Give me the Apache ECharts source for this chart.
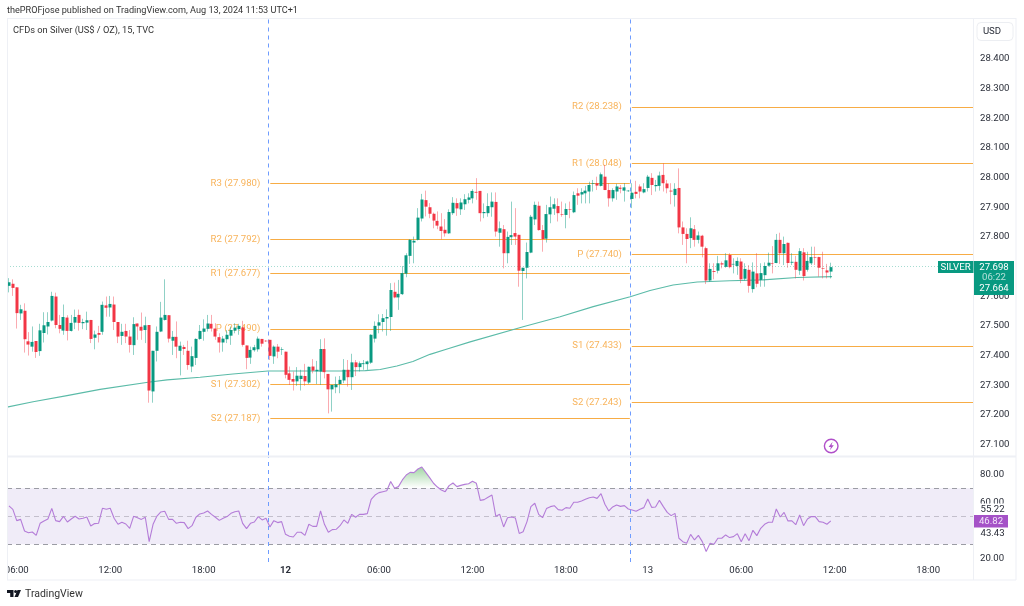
<!DOCTYPE html>
<html><head><meta charset="utf-8">
<style>html,body{margin:0;padding:0;background:#fff}#c{width:1024px;height:606px}</style>
<script src="https://cdn.jsdelivr.net/npm/echarts@6/dist/echarts.min.js"></script>
</head><body><div id="c"></div>
<script>
const opens=[27.635,27.642,27.630,27.542,27.551,27.448,27.430,27.449,27.415,27.476,27.498,27.518,27.599,27.503,27.484,27.528,27.483,27.511,27.537,27.509,27.511,27.520,27.460,27.476,27.480,27.569,27.562,27.572,27.513,27.466,27.483,27.464,27.435,27.508,27.497,27.486,27.503,27.279,27.416,27.481,27.520,27.536,27.450,27.463,27.416,27.429,27.416,27.363,27.392,27.456,27.480,27.490,27.507,27.491,27.462,27.444,27.455,27.467,27.484,27.489,27.495,27.434,27.393,27.418,27.421,27.456,27.450,27.453,27.397,27.430,27.420,27.413,27.340,27.321,27.313,27.321,27.331,27.309,27.363,27.347,27.346,27.422,27.338,27.286,27.293,27.304,27.316,27.352,27.327,27.377,27.361,27.371,27.371,27.376,27.457,27.501,27.513,27.525,27.530,27.615,27.596,27.607,27.676,27.736,27.781,27.790,27.862,27.924,27.900,27.878,27.854,27.835,27.824,27.812,27.880,27.914,27.893,27.910,27.925,27.930,27.952,27.955,27.880,27.880,27.900,27.918,27.814,27.826,27.745,27.799,27.813,27.807,27.685,27.696,27.747,27.859,27.905,27.823,27.794,27.876,27.895,27.904,27.876,27.874,27.893,27.883,27.947,27.943,27.947,27.953,27.979,27.981,27.972,28.003,27.958,27.930,27.953,27.966,27.956,27.954,27.928,27.952,27.970,27.950,27.965,27.999,27.971,27.972,28.009,27.980,27.956,27.941,27.965,27.832,27.810,27.796,27.826,27.790,27.804,27.762,27.653,27.685,27.686,27.711,27.699,27.739,27.707,27.702,27.717,27.659,27.689,27.624,27.677,27.655,27.671,27.703,27.712,27.712,27.790,27.745,27.780,27.713,27.716,27.686,27.748,27.689,27.711,27.732,27.732,27.695,27.687,27.683];
const closes=[27.647,27.628,27.543,27.556,27.455,27.437,27.446,27.412,27.485,27.502,27.513,27.601,27.503,27.490,27.530,27.483,27.510,27.530,27.510,27.513,27.519,27.456,27.471,27.470,27.571,27.561,27.574,27.513,27.464,27.480,27.464,27.436,27.506,27.498,27.484,27.502,27.282,27.416,27.480,27.528,27.537,27.457,27.463,27.430,27.433,27.422,27.368,27.398,27.456,27.483,27.491,27.508,27.491,27.464,27.444,27.457,27.470,27.486,27.494,27.500,27.436,27.392,27.419,27.428,27.457,27.440,27.448,27.399,27.430,27.413,27.422,27.335,27.318,27.312,27.332,27.332,27.313,27.362,27.349,27.352,27.422,27.344,27.286,27.301,27.303,27.318,27.352,27.327,27.377,27.361,27.374,27.374,27.380,27.470,27.500,27.512,27.526,27.530,27.621,27.596,27.608,27.678,27.738,27.790,27.787,27.865,27.926,27.902,27.878,27.855,27.838,27.820,27.812,27.884,27.915,27.896,27.916,27.927,27.933,27.955,27.949,27.880,27.884,27.904,27.919,27.818,27.829,27.745,27.800,27.806,27.801,27.686,27.696,27.749,27.868,27.908,27.823,27.793,27.877,27.900,27.910,27.880,27.874,27.894,27.891,27.941,27.939,27.951,27.956,27.975,27.981,27.973,28.011,27.958,27.930,27.958,27.970,27.962,27.967,27.956,27.949,27.945,27.953,27.961,28.003,27.975,27.975,28.007,27.981,27.964,27.953,27.962,27.832,27.810,27.793,27.829,27.790,27.805,27.767,27.653,27.692,27.682,27.711,27.707,27.721,27.698,27.709,27.719,27.657,27.692,27.635,27.683,27.642,27.678,27.702,27.713,27.710,27.790,27.745,27.776,27.712,27.716,27.689,27.752,27.668,27.719,27.732,27.730,27.696,27.693,27.680,27.698];
const lows=[27.613,27.601,27.491,27.520,27.410,27.400,27.413,27.392,27.399,27.444,27.471,27.515,27.492,27.475,27.470,27.451,27.481,27.489,27.484,27.489,27.486,27.442,27.421,27.444,27.470,27.531,27.531,27.486,27.442,27.436,27.442,27.410,27.402,27.453,27.453,27.442,27.241,27.241,27.380,27.479,27.518,27.444,27.402,27.391,27.333,27.402,27.352,27.344,27.368,27.453,27.450,27.481,27.481,27.453,27.410,27.413,27.442,27.436,27.475,27.470,27.430,27.354,27.372,27.413,27.413,27.430,27.446,27.385,27.372,27.391,27.402,27.323,27.301,27.282,27.298,27.282,27.298,27.304,27.340,27.304,27.301,27.323,27.205,27.211,27.273,27.273,27.307,27.295,27.284,27.331,27.346,27.352,27.352,27.372,27.444,27.475,27.481,27.467,27.483,27.593,27.554,27.604,27.664,27.709,27.711,27.788,27.852,27.869,27.863,27.829,27.826,27.792,27.801,27.810,27.874,27.871,27.874,27.891,27.913,27.913,27.925,27.852,27.863,27.868,27.868,27.801,27.767,27.694,27.711,27.773,27.773,27.632,27.520,27.660,27.745,27.840,27.821,27.750,27.781,27.846,27.874,27.852,27.868,27.829,27.863,27.880,27.908,27.913,27.913,27.913,27.953,27.958,27.970,27.958,27.902,27.919,27.925,27.947,27.919,27.952,27.897,27.930,27.930,27.947,27.953,27.941,27.953,27.956,27.953,27.947,27.910,27.902,27.812,27.773,27.711,27.762,27.767,27.778,27.731,27.641,27.649,27.657,27.677,27.694,27.696,27.694,27.677,27.672,27.644,27.653,27.612,27.612,27.630,27.632,27.632,27.700,27.677,27.711,27.709,27.705,27.696,27.705,27.660,27.672,27.653,27.683,27.705,27.705,27.666,27.660,27.660,27.660];
const highs=[27.661,27.657,27.630,27.571,27.576,27.479,27.498,27.449,27.507,27.546,27.546,27.615,27.612,27.537,27.572,27.536,27.537,27.555,27.555,27.524,27.548,27.520,27.484,27.500,27.582,27.599,27.601,27.599,27.513,27.507,27.507,27.486,27.529,27.508,27.545,27.531,27.503,27.416,27.498,27.581,27.657,27.536,27.483,27.515,27.447,27.436,27.450,27.430,27.458,27.503,27.522,27.537,27.537,27.509,27.475,27.466,27.486,27.498,27.509,27.507,27.517,27.434,27.430,27.436,27.464,27.456,27.452,27.453,27.434,27.439,27.428,27.413,27.363,27.346,27.361,27.352,27.372,27.363,27.388,27.382,27.455,27.458,27.338,27.301,27.329,27.331,27.388,27.385,27.406,27.385,27.380,27.385,27.383,27.472,27.515,27.539,27.540,27.556,27.644,27.646,27.655,27.702,27.745,27.792,27.801,27.897,27.945,27.956,27.914,27.882,27.886,27.880,27.860,27.893,27.934,27.930,27.930,27.944,27.947,27.961,27.998,27.955,27.913,27.947,27.950,27.950,27.852,27.840,27.818,27.919,27.897,27.807,27.696,27.781,27.874,27.919,27.919,27.840,27.908,27.936,27.930,27.930,27.919,27.913,27.919,27.953,27.964,27.964,27.972,27.986,27.992,28.003,28.017,28.043,27.981,27.964,27.979,27.975,27.981,27.958,27.981,27.989,27.977,27.981,28.009,28.015,27.992,28.020,28.048,27.992,27.981,27.981,28.031,27.852,27.829,27.866,27.840,27.818,27.807,27.767,27.711,27.711,27.736,27.717,27.745,27.745,27.728,27.731,27.728,27.711,27.705,27.714,27.745,27.711,27.714,27.747,27.769,27.810,27.814,27.801,27.781,27.745,27.736,27.762,27.762,27.750,27.767,27.767,27.733,27.750,27.709,27.713];
const rsiValues=[57.4,55.0,46.9,47.8,39.5,38.3,38.8,36.4,45.0,46.7,48.1,55.7,46.9,46.2,50.0,45.9,48.1,50.0,48.1,48.6,49.5,43.1,44.8,45.0,55.7,55.0,55.7,48.6,44.3,45.7,44.5,41.4,50.0,49.0,47.8,49.3,31.9,44.3,50.2,53.1,53.6,47.8,47.8,45.0,45.7,45.5,41.2,43.3,49.3,51.7,52.4,53.8,51.4,49.3,47.1,48.6,49.8,52.1,53.3,53.8,45.0,41.2,45.0,45.9,49.8,47.4,48.6,42.4,46.9,45.5,46.2,37.1,35.7,35.2,38.6,38.6,36.4,44.3,42.8,42.8,53.8,44.3,38.6,40.5,40.7,43.3,47.4,45.0,51.4,49.3,51.4,51.4,51.9,62.1,65.2,66.9,67.6,68.3,74.8,70.0,71.2,76.0,79.5,81.4,81.2,83.8,85.2,81.4,77.6,73.6,70.9,68.8,67.6,71.9,73.8,71.2,72.1,72.8,73.3,75.0,73.6,61.4,61.9,63.6,65.2,50.0,51.4,42.4,49.0,49.5,48.8,37.8,39.0,46.2,56.9,59.3,51.4,49.0,55.5,56.9,57.6,54.8,54.3,56.2,55.7,60.0,60.0,60.9,62.1,63.3,63.8,62.8,66.2,58.6,53.8,56.7,58.1,57.1,57.6,55.2,54.5,53.6,55.0,56.2,62.4,56.4,56.7,61.4,56.9,52.8,50.5,52.1,34.3,31.9,30.7,37.1,33.1,36.4,31.9,24.8,30.7,30.0,34.3,34.3,36.7,34.8,35.5,37.6,31.9,37.6,32.6,40.0,36.2,41.4,44.3,45.7,45.7,55.2,49.5,52.8,46.7,46.7,44.0,50.9,43.3,48.1,49.8,49.8,46.2,45.7,44.3,46.7];
const maBars=[0,6.7,15.4,23.9,36.2,41.1,49.6,58,67,75.2,85.5,92,95.8,100.1,104.2,108.6,113,118.9,132.5,142,150.5,160,165.1,171,177.2,185.6,194.1,202.8,211.8];
const maPrices=[27.226,27.244,27.265,27.286,27.310,27.318,27.327,27.338,27.348,27.348,27.348,27.349,27.353,27.365,27.380,27.404,27.422,27.446,27.497,27.531,27.565,27.598,27.619,27.638,27.648,27.652,27.655,27.663,27.666];
const priceTicks=[27.1,27.2,27.3,27.4,27.5,27.6,27.7,27.8,27.9,28.0,28.1,28.2,28.3,28.4];
const rsiTicks=[20,60,80];
const timeTickIndex=[2,26,50,71,95,119,143,164,188,212,236];
const timeTickText=['06:00','12:00','18:00','12','06:00','12:00','18:00','13','06:00','12:00','18:00'];
const pivotDay1Names=['R3','R2','R1','P','S1','S2'];
const pivotDay1=[27.980,27.792,27.677,27.490,27.302,27.187];
const pivotDay2Names=['R2','R1','P','S1','S2'];
const pivotDay2=[28.238,28.048,27.740,27.433,27.243];
const sessionBreaks=[67,160];
const lastPrice=27.698;

const BAR_SLOTS=248, UP='#089981', DOWN='#F23645', FONT='Roboto, "Noto Sans", sans-serif', TXT='#2a2e39', ORANGE='#F8B45C', FS=9.6;
const cats=Array.from({length:BAR_SLOTS},(_,i)=>{const k=timeTickIndex.indexOf(i);return k>=0?timeTickText[k]:'';});
const wick=opens.map((o,i)=>[o,closes[i],lows[i],highs[i]]);
const body=opens.map((o,i)=>[o,closes[i],Math.min(o,closes[i]),Math.max(o,closes[i])]);
const over=rsiValues.map((v,i)=>v>70?v:((rsiValues[i-1]>70||rsiValues[i+1]>70)?70:null));
const pivotLines=(names,vals,x0,x1)=>vals.map((v,i)=>[{coord:[x0,v],name:names[i]+' ('+v.toFixed(3)+')'},{coord:[x1,v]}]);
const chart=echarts.init(document.getElementById('c'),null,{renderer:'canvas'});
const rect=(x,y,w,h,fill,z)=>({type:'rect',shape:{x,y,width:w,height:h},style:{fill},z:z||50,silent:true});
const txt=(x,y,t,o)=>({type:'text',x,y,z:(o&&o.z)||60,silent:true,style:Object.assign({text:t,fill:TXT,font:FS+'px '+FONT,verticalAlign:'middle',align:'left'},o||{})});
chart.setOption({
 animation:false,backgroundColor:'#fff',
 grid:[{left:7,right:51,top:18,height:437.5},{left:7,right:51,top:457,height:105}],
 xAxis:[
  {type:'category',gridIndex:0,data:cats,show:false},
  {type:'category',gridIndex:1,data:cats,axisLine:{show:false},axisTick:{show:false},splitLine:{show:false},
   axisLabel:{interval:(i)=>timeTickIndex.includes(i),hideOverlap:false,margin:4,fontFamily:FONT,fontSize:FS,color:TXT,
     formatter:v=>v==='12'?'{b|12}':v,rich:{b:{fontWeight:700,fontFamily:FONT,fontSize:FS,color:TXT}}}},
  {type:'value',gridIndex:0,min:0,max:BAR_SLOTS,show:false},
  {type:'value',gridIndex:1,min:0,max:BAR_SLOTS,show:false}
 ],
 yAxis:[
  {type:'value',gridIndex:0,position:'right',min:27.063,max:28.538,axisLine:{show:false},axisTick:{show:false},splitLine:{show:false},
   axisLabel:{customValues:priceTicks,margin:7,padding:[2,0,0,0],fontFamily:FONT,fontSize:FS,color:TXT,formatter:v=>v.toFixed(3)}},
  {type:'value',gridIndex:1,position:'right',min:17.36,max:92.36,axisLine:{show:false},axisTick:{show:false},splitLine:{show:false},
   axisLabel:{customValues:rsiTicks,margin:7,padding:[1,0,0,0],fontFamily:FONT,fontSize:FS,color:TXT,formatter:v=>v.toFixed(2)}}
 ],
 series:[
  {name:'EMA',type:'line',xAxisIndex:2,yAxisIndex:0,z:2,showSymbol:false,silent:true,
   data:maBars.map((x,i)=>[x,maPrices[i]]),lineStyle:{color:'#5BBBA8',width:1.1},
   markLine:{silent:true,symbol:'none',animation:false,z:1,
    lineStyle:{color:'#F7AC45',width:1,type:'solid',opacity:1},
    label:{show:true,position:'start',distance:10,padding:[2,0,0,0],formatter:p=>p.name,color:ORANGE,fontFamily:FONT,fontSize:FS},
    data:[...pivotLines(pivotDay1Names,pivotDay1,67.6,159.9),...pivotLines(pivotDay2Names,pivotDay2,160.4,BAR_SLOTS),
     {yAxis:lastPrice,name:'',lineStyle:{color:'#a6dcd1',type:[1,2],width:1},label:{show:false}},
     ...sessionBreaks.map(x=>({xAxis:x,name:'',lineStyle:{color:'#6E9CFF',type:[4,4],width:1},label:{show:false}}))]}},
  {name:'wick',type:'candlestick',xAxisIndex:0,yAxisIndex:0,z:3,barWidth:1,silent:true,data:wick,
   itemStyle:{color:'rgba(8,153,129,.45)',color0:'rgba(242,54,69,.42)',borderColor:'rgba(8,153,129,.45)',borderColor0:'rgba(242,54,69,.42)',borderWidth:1}},
  {name:'CFDs on Silver',type:'candlestick',xAxisIndex:0,yAxisIndex:0,z:4,barWidth:3.5,silent:true,data:body,
   itemStyle:{color:UP,color0:DOWN,borderColor:UP,borderColor0:DOWN,borderWidth:0}},
  {name:'RSI',type:'line',xAxisIndex:1,yAxisIndex:1,z:4,showSymbol:false,silent:true,data:rsiValues,
   lineStyle:{color:'#B47CD8',width:1.1},
   markArea:{silent:true,z:1,itemStyle:{color:'rgba(126,87,194,.115)'},data:[[{yAxis:30},{yAxis:70}]]},
   markLine:{silent:true,symbol:'none',z:2,label:{show:false},lineStyle:{color:'#9b9ca4',type:[5,4],width:1},
     data:[{yAxis:70},{yAxis:50,lineStyle:{color:'#c3bfcc'}},{yAxis:30}]}},
  {name:'RSI overbought',type:'line',xAxisIndex:1,yAxisIndex:1,z:3,showSymbol:false,silent:true,data:over,connectNulls:false,
   lineStyle:{opacity:0,width:0},
   areaStyle:{origin:70,opacity:1,color:new echarts.graphic.LinearGradient(0,466,0,488,[{offset:0,color:'rgba(76,175,80,.55)'},{offset:1,color:'rgba(76,175,80,0)'}],true)}},
  {name:'session',type:'line',xAxisIndex:3,yAxisIndex:1,z:5,showSymbol:false,silent:true,data:[],
   markLine:{silent:true,symbol:'none',label:{show:false},lineStyle:{color:'#6E9CFF',type:[4,4],width:1},data:sessionBreaks.map(x=>({xAxis:x}))}}
 ],
 graphic:[
  rect(0,0,7,582,'#fff',40),
  rect(7,18,1009,1,'#eef0f5',41),rect(7,18,1,562,'#eef0f5',41),rect(7,579.5,1009,1,'#eef0f5',41),rect(1015.5,18,1,562,'#eef0f5',41),
  rect(973,18,1,562,'#eef0f5',41),rect(7,455.5,1009,2,'#eef0f5',41),
  txt(7,11,'thePROFjose published on TradingView.com, Aug 13, 2024 11:53 UTC+1',{fill:'#333',font:'9.15px '+FONT}),
  txt(13,30.3,'CFDs on Silver (US$ / OZ), 15, TVC',{fill:'#333',font:'9.25px '+FONT}),
  {type:'rect',z:60,silent:true,shape:{x:977,y:22.5,width:36,height:18,r:4},style:{fill:'#fff',stroke:'#eceef2'}},
  txt(992,31.5,'USD',{align:'center',fill:'#2a2e39',z:61}),
  rect(938,261,35.5,12,UP,70),txt(955.5,267.3,'SILVER',{align:'center',fill:'#fff',z:71}),
  rect(974,261,40,34,UP,70),
  txt(994,267.3,'27.698',{align:'center',fill:'#fff',z:71}),
  txt(994,277.5,'06:22',{align:'center',fill:'rgba(255,255,255,.7)',z:71}),
  txt(994,289,'27.664',{align:'center',fill:'#fff',z:71}),
  rect(976,503.5,36,11,'#fff',65),txt(980.5,509.3,'55.22',{z:66}),
  rect(974,515,34,12.5,'#A552C7',70),txt(991,521.2,'46.82',{align:'center',fill:'#f3e5fa',z:71}),
  txt(980.5,533.3,'43.43',{z:66}),
  {type:'circle',z:60,silent:true,shape:{cx:831.2,cy:446,r:6.8},style:{fill:'#fff',stroke:'#B04FC9',lineWidth:1.4}},
  {type:'polygon',z:61,silent:true,shape:{points:[[832.6,441.8],[828.6,446.9],[830.9,446.9],[829.9,450.2],[833.8,445.2],[831.5,445.2]]},style:{fill:'#B04FC9'}},
  {type:'polygon',z:60,silent:true,shape:{points:[[7,590],[13.5,590],[13.5,597],[10.2,597],[10.2,593],[7,593]]},style:{fill:'#131722'}},
  {type:'circle',z:60,silent:true,shape:{cx:15.6,cy:591.5,r:1.5},style:{fill:'#131722'}},
  {type:'polygon',z:60,silent:true,shape:{points:[[17.5,590],[21,590],[18,597],[14.5,597]]},style:{fill:'#131722'}},
  txt(25,594,'TradingView',{font:'10.5px '+FONT,fill:'#333'})
 ]
});
</script></body></html>
